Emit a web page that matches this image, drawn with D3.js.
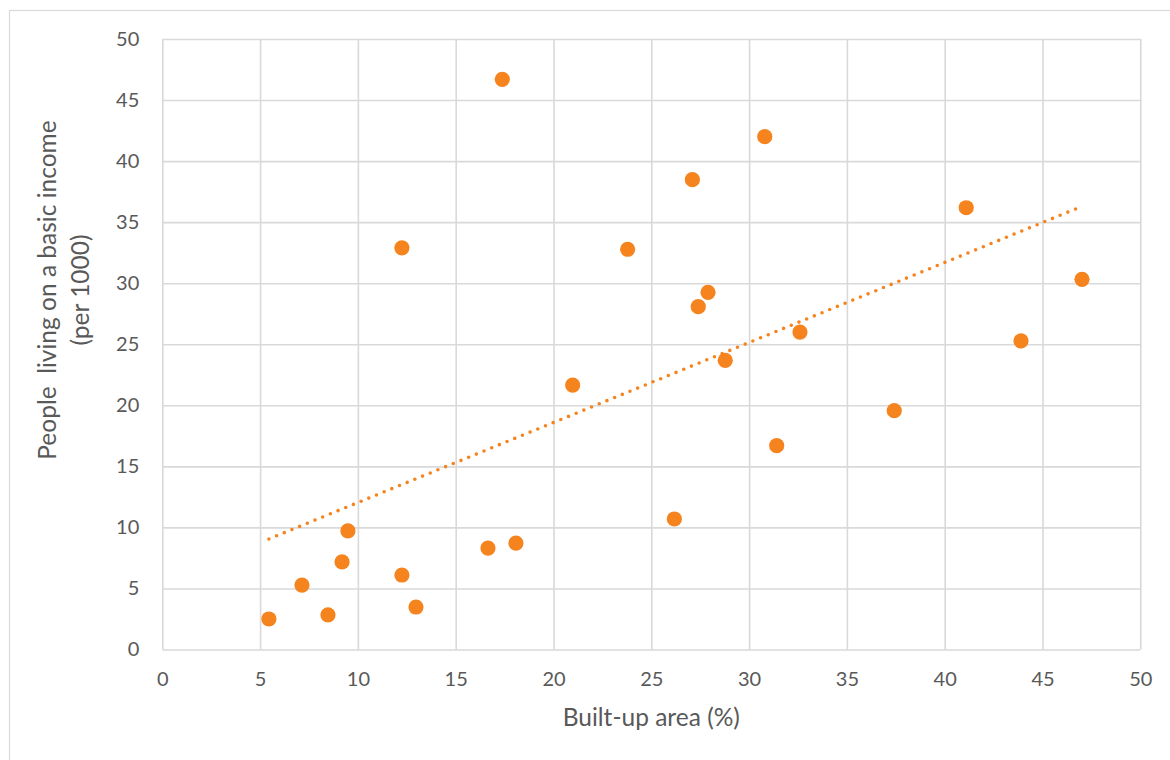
<!DOCTYPE html>
<html>
<head>
<meta charset="utf-8">
<script src="https://cdn.jsdelivr.net/npm/d3@7"></script>
<style>
  html, body { margin: 0; padding: 0; background: #ffffff; }
  svg { display: block; }
</style>
</head>
<body>
<svg id="chart" width="1170" height="760"></svg>
<script>
// ---- Data ----
const builtUpArea = [5.45, 7.14, 8.47, 9.19, 9.49, 12.25, 12.25, 12.97, 16.65, 18.08, 17.38, 20.98, 23.79, 26.18, 27.1, 27.4, 27.9, 28.78, 30.8, 31.41, 32.6, 37.42, 41.1, 43.9, 47.02];
const basicIncome = [2.5, 5.28, 2.83, 7.17, 9.71, 32.9, 6.1, 3.48, 8.31, 8.72, 46.7, 21.66, 32.78, 10.69, 38.48, 28.08, 29.25, 23.68, 42.0, 16.69, 26.0, 19.56, 36.18, 25.27, 30.32];
const xTicks = [0, 5, 10, 15, 20, 25, 30, 35, 40, 45, 50];
const yTicks = [0, 5, 10, 15, 20, 25, 30, 35, 40, 45, 50];
const xTitle = "Built-up area (%)";
const yTitleLines = ["People  living on a basic income", "(per 1000)"];

// ---- Layout ----
const W = 1170, H = 760;
const plot = { left: 162.3, top: 39, right: 1140.3, bottom: 649.5 };
const textColor = "#595959";
const gridColor = "#d9d9d9";
const pointColor = "#f5841f";
const font = "Lato, 'Open Sans', sans-serif";

const svg = d3.select("#chart");

// outer chart frame
svg.append("rect")
  .attr("x", 9.5).attr("y", 10.5)
  .attr("width", W + 20).attr("height", H + 20)
  .attr("fill", "#ffffff")
  .attr("stroke", gridColor).attr("stroke-width", 1.2);

const x = d3.scaleLinear().domain([0, 50]).range([plot.left, plot.right]);
const y = d3.scaleLinear().domain([0, 50]).range([plot.bottom, plot.top]);

// x axis + vertical gridlines
const xAxis = svg.append("g")
  .attr("transform", `translate(0,${plot.bottom})`)
  .call(d3.axisBottom(x).tickValues(xTicks).tickFormat(d3.format("d"))
    .tickSize(-(plot.bottom - plot.top)).tickPadding(22));
xAxis.select(".domain").remove();
xAxis.selectAll(".tick line").attr("stroke", gridColor).attr("stroke-width", 1.6);
xAxis.selectAll(".tick text").attr("fill", textColor)
  .style("font-family", font).style("font-size", "20px");

// y axis + horizontal gridlines
const yAxis = svg.append("g")
  .attr("transform", `translate(${plot.left},0)`)
  .call(d3.axisLeft(y).tickValues(yTicks).tickFormat(d3.format("d"))
    .tickSize(-(plot.right - plot.left)).tickPadding(23));
yAxis.select(".domain").remove();
yAxis.selectAll(".tick line").attr("stroke", gridColor).attr("stroke-width", 1.6);
yAxis.selectAll(".tick text").attr("fill", textColor)
  .style("font-family", font).style("font-size", "20px");

// points
const pts = builtUpArea.map((v, i) => ({ x: v, y: basicIncome[i] }));
svg.append("g").selectAll("circle").data(pts).join("circle")
  .attr("cx", d => x(d.x)).attr("cy", d => y(d.y))
  .attr("r", 7.6).attr("fill", pointColor);

// linear trendline (least squares)
const mx = d3.mean(pts, d => d.x), my = d3.mean(pts, d => d.y);
const slope = d3.sum(pts, d => (d.x - mx) * (d.y - my)) / d3.sum(pts, d => (d.x - mx) ** 2);
const intercept = my - slope * mx;
const [xmin, xmax] = d3.extent(pts, d => d.x);
const trend = [xmin, xmax].map(v => ({ x: v, y: intercept + slope * v }));
svg.append("path")
  .datum(trend)
  .attr("d", d3.line().x(d => x(d.x)).y(d => y(d.y)))
  .attr("fill", "none")
  .attr("stroke", pointColor)
  .attr("stroke-width", 3.6)
  .attr("stroke-linecap", "round")
  .attr("stroke-dasharray", "0 8.3");

// x title
svg.append("text")
  .attr("x", (plot.left + plot.right) / 2).attr("y", 720)
  .attr("text-anchor", "middle").attr("dominant-baseline", "middle")
  .attr("fill", textColor)
  .style("font-family", font).style("font-size", "24.5px")
  .text(xTitle);

// y title (two lines, rotated)
const yCenter = 290;
const yt = svg.append("text")
  .attr("transform", `translate(50,${yCenter}) rotate(-90)`)
  .attr("text-anchor", "middle")
  .attr("fill", textColor)
  .style("font-family", font).style("font-size", "24.5px")
  .style("white-space", "pre")
  .attr("xml:space", "preserve");
yt.selectAll("tspan").data(yTitleLines).join("tspan")
  .attr("x", 0).attr("y", (d, i) => i * 33)
  .attr("dominant-baseline", "middle")
  .text(d => d);
</script>
</body>
</html>
